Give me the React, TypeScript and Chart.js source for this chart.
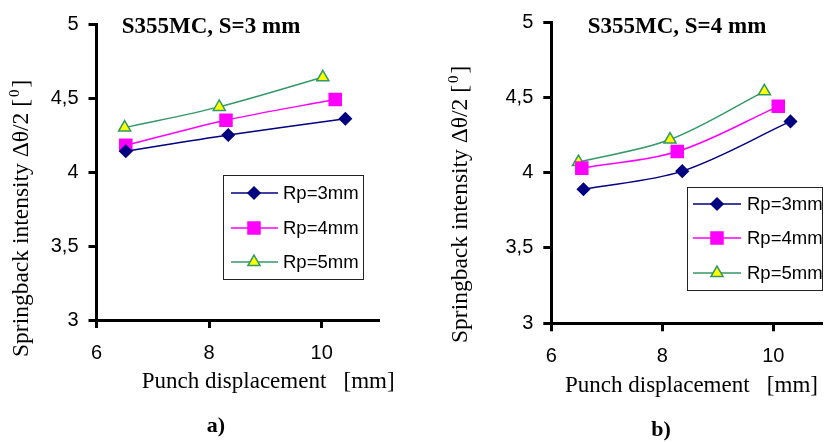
import React, { useEffect, useRef } from 'react';
import { Chart, registerables } from 'chart.js';

Chart.register(...registerables);

// ---------- data ----------
const seriesLabels = ['Rp=3mm', 'Rp=4mm', 'Rp=5mm'];
const xTickValues = [6, 8, 10];
const yTickValues = [3, 3.5, 4, 4.5, 5];

// chart a) S=3 mm
const aRp3X = [6.52, 8.34, 10.42];
const aRp3Y = [4.14, 4.25, 4.36];
const aRp4X = [6.52, 8.3, 10.24];
const aRp4Y = [4.18, 4.35, 4.49];
const aRp5X = [6.5, 8.18, 10.02];
const aRp5Y = [4.3, 4.44, 4.64];

// chart b) S=4 mm
const bRp3X = [6.58, 8.36, 10.31];
const bRp3Y = [3.89, 4.01, 4.34];
const bRp4X = [6.55, 8.27, 10.09];
const bRp4Y = [4.03, 4.14, 4.44];
const bRp5X = [6.49, 8.14, 9.84];
const bRp5Y = [4.07, 4.22, 4.54];

// ---------- styles ----------
const lineColors = ['#000080', '#FF00FF', '#339966'];
const pointFills = ['#000080', '#FF00FF', '#FFFF00'];
const pointStyles = ['rectRot', 'rect', 'triangle'];
const pointRadii = [6, 8.5, 7];

const SERIF = '"Liberation Serif", "Times New Roman", serif';
const SANS = '"Liberation Sans", Arial, sans-serif';

type LegendCfg = { x: number; y: number; w: number; h: number; rows: number[]; lx1: number; lx2: number; mx: number; tx: number };
type PanelCfg = {
  width: number;
  xMax: number;
  padTop: number;
  padRight: number;
  yWidth: number;
  xHeight: number;
  title: string;
  titleX: number;
  titleBase: number;
  yTitleBaseX: number;
  yTitleStartY: number;
  xTitleStartX: number;
  xTitleBase: number;
  sub: string;
  subX: number;
  subBase: number;
  legend: LegendCfg;
};

function drawMarker(ctx: CanvasRenderingContext2D, style: string, x: number, y: number, r: number, fill: string, stroke: string) {
  ctx.save();
  ctx.beginPath();
  if (style === 'rectRot') {
    ctx.moveTo(x, y - r);
    ctx.lineTo(x + r, y);
    ctx.lineTo(x, y + r);
    ctx.lineTo(x - r, y);
    ctx.closePath();
  } else if (style === 'rect') {
    const s = r * Math.SQRT1_2;
    ctx.rect(x - s, y - s, 2 * s, 2 * s);
  } else {
    const h = r * Math.sin(Math.PI / 3);
    ctx.moveTo(x, y - r);
    ctx.lineTo(x + h, y + r * 0.5);
    ctx.lineTo(x - h, y + r * 0.5);
    ctx.closePath();
  }
  ctx.fillStyle = fill;
  ctx.fill();
  ctx.lineWidth = 1.5;
  ctx.strokeStyle = stroke;
  ctx.stroke();
  ctx.restore();
}

function makeDecorPlugin(cfg: PanelCfg) {
  return {
    id: 'decor',
    afterDraw(chart: any) {
      const ctx: CanvasRenderingContext2D = chart.ctx;
      ctx.save();
      ctx.fillStyle = '#000';
      // title
      ctx.font = `bold 23px ${SERIF}`;
      ctx.textAlign = 'center';
      ctx.textBaseline = 'alphabetic';
      ctx.fillText(cfg.title, cfg.titleX, cfg.titleBase);
      // x title
      ctx.font = `23px ${SERIF}`;
      ctx.textAlign = 'left';
      ctx.fillText('Punch displacement   [mm]', cfg.xTitleStartX, cfg.xTitleBase);
      // sub label
      ctx.font = `bold 22px ${SERIF}`;
      ctx.textAlign = 'center';
      ctx.fillText(cfg.sub, cfg.subX, cfg.subBase);
      // y title (rotated)
      ctx.save();
      ctx.translate(cfg.yTitleBaseX, cfg.yTitleStartY);
      ctx.rotate(-Math.PI / 2);
      ctx.textAlign = 'left';
      let x = 0;
      const segs: { t: string; f: string; dy: number; gap: number }[] = [
        { t: 'Springback intensity ', f: `23.5px ${SERIF}`, dy: 0, gap: 0 },
        { t: 'Δθ/2', f: `23.5px ${SERIF}`, dy: 0, gap: 0 },
        { t: ' [', f: `23.5px ${SERIF}`, dy: 0, gap: 2 },
        { t: '0', f: `15px ${SERIF}`, dy: -9, gap: 2 },
        { t: ']', f: `23.5px ${SERIF}`, dy: 0, gap: 0 },
      ];
      for (const s of segs) {
        ctx.font = s.f;
        ctx.fillText(s.t, x, s.dy);
        x += ctx.measureText(s.t).width + s.gap;
      }
      ctx.restore();
      // legend
      const L = cfg.legend;
      ctx.fillStyle = '#fff';
      ctx.fillRect(L.x, L.y, L.w, L.h);
      ctx.lineWidth = 1;
      ctx.strokeStyle = '#222';
      ctx.strokeRect(L.x + 0.5, L.y + 0.5, L.w, L.h);
      chart.data.datasets.forEach((ds: any, i: number) => {
        const yy = L.rows[i];
        ctx.beginPath();
        ctx.moveTo(L.lx1, yy);
        ctx.lineTo(L.lx2, yy);
        ctx.lineWidth = 1.5;
        ctx.strokeStyle = ds.borderColor;
        ctx.stroke();
        drawMarker(ctx, ds.pointStyle, L.mx, yy, ds.pointRadius, ds.pointBackgroundColor, ds.pointBorderColor);
        ctx.fillStyle = '#000';
        ctx.font = `18.5px ${SANS}`;
        ctx.textAlign = 'left';
        ctx.textBaseline = 'middle';
        ctx.fillText(ds.label, L.tx, yy + 1);
      });
      ctx.restore();
    },
  };
}

function Panel({ cfg, xs, ys }: { cfg: PanelCfg; xs: number[][]; ys: number[][] }) {
  const ref = useRef<HTMLCanvasElement | null>(null);
  useEffect(() => {
    if (!ref.current) return;
    const datasets = seriesLabels.map((label, i) => ({
      label,
      data: xs[i].map((x, j) => ({ x, y: ys[i][j] })),
      borderColor: lineColors[i],
      backgroundColor: pointFills[i],
      pointBackgroundColor: pointFills[i],
      pointBorderColor: lineColors[i],
      pointBorderWidth: 1.5,
      pointStyle: pointStyles[i],
      pointRadius: pointRadii[i],
      borderWidth: 1.5,
      tension: 0.33,
      fill: false,
    }));
    const chart = new Chart(ref.current, {
      type: 'line',
      data: { datasets },
      plugins: [makeDecorPlugin(cfg)],
      options: {
        responsive: false,
        animation: false,
        events: [],
        layout: { padding: { left: 0, top: cfg.padTop, right: cfg.padRight, bottom: 0 } },
        plugins: { legend: { display: false }, tooltip: { enabled: false }, title: { display: false } },
        scales: {
          x: {
            type: 'linear',
            min: 6,
            max: cfg.xMax,
            afterBuildTicks: (s: any) => {
              s.ticks = xTickValues.map((v) => ({ value: v }));
            },
            afterFit: (s: any) => {
              s.height = cfg.xHeight;
            },
            ticks: { font: { family: SANS, size: 20 }, color: '#000', padding: 13, maxRotation: 0 },
            grid: { display: true, drawOnChartArea: false, drawTicks: true, tickLength: 8, lineWidth: 3, color: '#000' },
            border: { display: true, width: 3, color: '#000' },
          },
          y: {
            type: 'linear',
            min: 3,
            max: 5,
            afterBuildTicks: (s: any) => {
              s.ticks = yTickValues.map((v) => ({ value: v }));
            },
            afterFit: (s: any) => {
              s.width = cfg.yWidth;
            },
            ticks: {
              font: { family: SANS, size: 20 },
              color: '#000',
              padding: 10,
              callback: (v: any) => String(v).replace('.', ','),
            },
            grid: { display: true, drawOnChartArea: false, drawTicks: true, tickLength: 8, lineWidth: 3, color: '#000' },
            border: { display: true, width: 3, color: '#000' },
          },
        },
      } as any,
    });
    return () => chart.destroy();
  }, []);
  return <canvas ref={ref} width={cfg.width} height={442} style={{ display: 'block' }} />;
}

const cfgA: PanelCfg = {
  width: 415,
  xMax: 11,
  padTop: 24,
  padRight: 37,
  yWidth: 96.5,
  xHeight: 122,
  title: 'S355MC, S=3 mm',
  titleX: 211,
  titleBase: 33,
  yTitleBaseX: 28.3,
  yTitleStartY: 357,
  xTitleStartX: 141.7,
  xTitleBase: 388.3,
  sub: 'a)',
  subX: 216,
  subBase: 432,
  legend: { x: 223, y: 175, w: 140, h: 104, rows: [193, 228, 262], lx1: 231, lx2: 278, mx: 254, tx: 283 },
};

const cfgB: PanelCfg = {
  width: 416,
  xMax: 10.86,
  padTop: 16.7,
  padRight: 0,
  yWidth: 136.3,
  xHeight: 118.7,
  title: 'S355MC, S=4 mm',
  titleX: 262,
  titleBase: 32.5,
  yTitleBaseX: 51.7,
  yTitleStartY: 343,
  xTitleStartX: 150,
  xTitleBase: 392,
  sub: 'b)',
  subX: 246,
  subBase: 436,
  legend: { x: 272, y: 187, w: 135, h: 103, rows: [204, 238, 273], lx1: 278, lx2: 326, mx: 302, tx: 332 },
};

export default function App() {
  return (
    <div style={{ position: 'fixed', left: 0, top: 0, width: 831, height: 442, background: '#fff', overflow: 'hidden' }}>
      <div style={{ position: 'absolute', left: 0, top: 0 }}>
        <Panel cfg={cfgA} xs={[aRp3X, aRp4X, aRp5X]} ys={[aRp3Y, aRp4Y, aRp5Y]} />
      </div>
      <div style={{ position: 'absolute', left: 415, top: 0 }}>
        <Panel cfg={cfgB} xs={[bRp3X, bRp4X, bRp5X]} ys={[bRp3Y, bRp4Y, bRp5Y]} />
      </div>
    </div>
  );
}
